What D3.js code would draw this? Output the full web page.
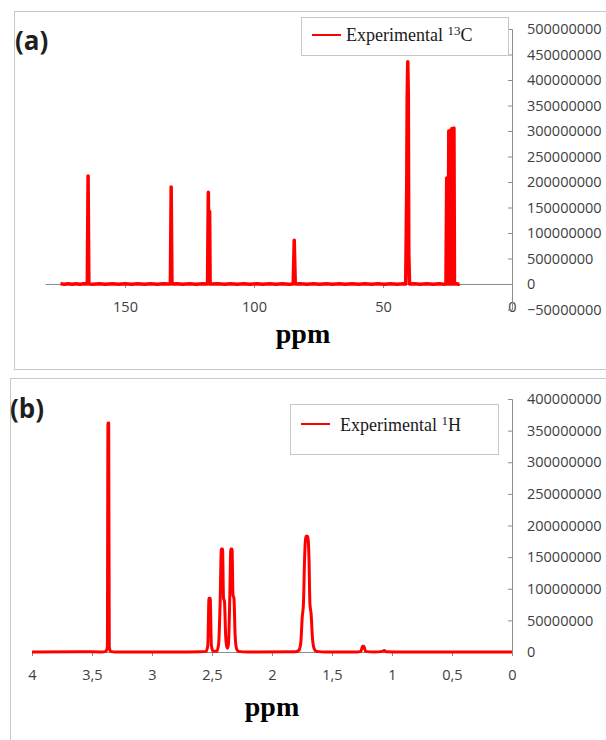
<!DOCTYPE html>
<html>
<head>
  <meta charset="utf-8">
  <style type="text/css">
    body { margin: 0; background: #fff; }
    .tick text { font-family: "Open Sans", sans-serif; font-size: 14.5px; fill: #404040; }
    .axis path, .axis line { stroke: #8c8c8c; }
  </style>
  <script src="https://d3js.org/d3.v7.min.js"></script>
  <script type="text/javascript">
    // 13C spectrum, ppm vs intensity
    var c13Ppm = [175.0, 173.5, 172.0, 170.5, 169.0, 167.5, 166.0, 164.6, 164.3, 164.0,
      162.5, 160.0, 157.5, 155.0, 152.5, 150.0, 147.5, 145.0, 142.5, 140.0, 137.5, 135.0, 133.0,
      132.4, 132.1, 131.8, 130.0, 127.5, 125.0, 122.5, 120.0, 118.3,
      118.0, 117.7, 117.4, 117.2, 117.0, 116.8,
      114.0, 111.5, 109.0, 106.5, 104.0, 101.5, 99.0, 96.5, 94.0, 91.5, 89.0, 86.5, 84.8,
      84.4, 84.0, 82.0, 79.5, 77.0, 74.5, 72.0, 69.5, 67.0, 64.5, 62.0, 59.5, 57.0, 54.5,
      52.0, 49.5, 47.0, 44.5, 42.0, 41.2,
      40.8, 40.6, 40.4, 40.2, 40.0, 39.7,
      38.0, 35.5, 33.0, 30.5, 28.0, 26.5, 25.6,
      25.3, 25.1, 24.9, 24.7, 24.5, 24.3, 24.1, 23.9, 23.7, 23.5, 23.3, 23.1, 22.9, 22.7, 22.5, 22.3,
      21.5, 20.8, 20.3];
    var c13Intensity = [0.3e6, -0.5e6, 0.6e6, -0.3e6, 0.5e6, -0.6e6, 0.3e6, 0, 212e6, 0,
      -0.5e6, 0.6e6, -0.4e6, 0.5e6, -0.6e6, 0.4e6, -0.5e6, 0.6e6, -0.3e6, 0.5e6, -0.6e6, 0.4e6, 0,
      0, 190e6, 0, 0.5e6, -0.5e6, 0.4e6, -0.6e6, 0.5e6, 0,
      0, 180e6, 0, 142e6, 0, 0,
      0.5e6, -0.5e6, 0.6e6, -0.4e6, 0.5e6, -0.6e6, 0.4e6, -0.5e6, 0.6e6, -0.3e6, 0.5e6, -0.6e6, 0,
      86e6, 0, 0.5e6, -0.5e6, 0.6e6, -0.4e6, 0.5e6, -0.5e6, 0.4e6, -0.5e6, 0.6e6, -0.4e6, 0.5e6, -0.6e6,
      0.4e6, -0.5e6, 0.5e6, -0.3e6, 0.5e6, 0,
      190e6, 375e6, 436e6, 375e6, 60e6, 0,
      0.5e6, -0.6e6, 0.4e6, -0.5e6, 0.5e6, -0.4e6, 0,
      208e6, 0, 208e6, 0, 300e6, 0, 300e6, 0, 302e6, 0, 305e6, 0, 305e6, 0, 306e6, 0,
      0.5e6, -0.5e6, 0.3e6];
    var c13XTicks = [150, 100, 50, 0];
    var c13YTicks = [-50e6, 0, 50e6, 100e6, 150e6, 200e6, 250e6, 300e6, 350e6, 400e6, 450e6, 500e6];

    // 1H spectrum
    var h1Ppm = [4.0, 3.6, 3.42, 3.385, 3.372, 3.367, 3.361, 3.356, 3.345, 3.30,
      2.8, 2.6, 2.55, 2.535, 2.525, 2.515, 2.505, 2.49,
      2.46, 2.445, 2.432, 2.422, 2.412, 2.404, 2.396, 2.386, 2.376, 2.37,
      2.362, 2.352, 2.343, 2.333, 2.325, 2.317, 2.307, 2.295, 2.28, 2.2,
      1.80, 1.775, 1.76, 1.748, 1.738, 1.728, 1.718, 1.702, 1.692, 1.684, 1.674, 1.662, 1.648, 1.63, 1.55,
      1.3, 1.26, 1.245, 1.235, 1.22, 1.15, 1.08, 1.065, 1.05, 0.9, 0.5, 0];
    var h1Intensity = [0, 0.5e6, 0, 1e6, 8e6, 362e6, 362e6, 8e6, 1e6, 0,
      0, 0.5e6, 1e6, 10e6, 85e6, 85e6, 10e6, 1e6,
      1e6, 12e6, 80e6, 163e6, 163e6, 85e6, 80e6, 25e6, 8e6, 6e6,
      15e6, 85e6, 163e6, 163e6, 90e6, 85e6, 25e6, 5e6, 1e6, 0,
      0.5e6, 3e6, 15e6, 55e6, 76e6, 150e6, 183e6, 183e6, 150e6, 76e6, 60e6, 20e6, 5e6, 1e6, 0,
      0, 1e6, 9e6, 9e6, 1e6, 0, 1e6, 2.5e6, 0.5e6, 0, 0, 0];
    var h1XTicks = [4, 3.5, 3, 2.5, 2, 1.5, 1, 0.5, 0];
    var h1YTicks = [0, 50e6, 100e6, 150e6, 200e6, 250e6, 300e6, 350e6, 400e6];

    function draw() {
      "use strict";
      var svg = d3.select("#chart")
        .append("svg")
          .attr("width", 606)
          .attr("height", 740);

      // panel frames
      svg.append("rect").attr("x", 14.5).attr("y", 11.5).attr("width", 620).attr("height", 358)
        .attr("fill", "none").attr("stroke", "#c8c8c8");
      svg.append("rect").attr("x", 10.5).attr("y", 378.5).attr("width", 620).attr("height", 400)
        .attr("fill", "none").attr("stroke", "#c8c8c8");

      function panel(opt) {
        var x = d3.scaleLinear().domain(opt.xDomain).range(opt.xRange);
        var y = d3.scaleLinear().domain(opt.yDomain).range(opt.yRange);
        var y0 = y(0);

        svg.append("g").attr("class", "axis")
          .attr("transform", "translate(0," + y0 + ")")
          .call(d3.axisBottom(x).tickValues(opt.xTicks).tickSize(4).tickSizeOuter(0)
            .tickFormat(opt.xFormat))
          .call(function(g) {
            g.selectAll(".tick text").attr("dy", null).attr("y", opt.xLabelY - y0);
          });

        svg.append("g").attr("class", "axis")
          .attr("transform", "translate(" + x(0) + ",0)")
          .call(d3.axisLeft(y).tickValues(opt.yTicks).tickSize(4).tickSizeOuter(4)
            .tickFormat(d3.format("d")))
          .call(function(g) {
            g.selectAll(".tick text").attr("text-anchor", "start").attr("x", 15);
          });

        var pts = d3.zip(opt.ppm, opt.intensity);
        svg.append("path")
          .datum(pts)
          .attr("fill", "none")
          .attr("stroke", "#ff0000")
          .attr("stroke-width", opt.lineWidth)
          .attr("stroke-linejoin", "round")
          .attr("d", d3.line().x(function(d) { return x(d[0]); })
            .y(function(d) { return y(d[1]); }).curve(opt.curve));

        svg.append("text")
          .attr("x", opt.ppmX).attr("y", opt.ppmY).attr("text-anchor", "middle")
          .style("font-family", "'Liberation Serif', serif").style("font-size", "28px")
          .style("font-weight", "bold").text("ppm");

        svg.append("text")
          .attr("x", opt.tagX).attr("y", opt.tagY)
          .style("font-family", "'Open Sans', sans-serif").style("font-size", "26px")
          .style("font-weight", "bold").style("fill", "#1f1f1f").text(opt.tag);

        // legend
        var lg = opt.legend;
        svg.append("rect").attr("x", lg.x + 0.5).attr("y", lg.y + 0.5)
          .attr("width", lg.w).attr("height", lg.h)
          .attr("fill", "#fff").attr("stroke", "#c8c8c8");
        svg.append("line").attr("x1", lg.x + 11).attr("x2", lg.x + 40)
          .attr("y1", lg.lineY).attr("y2", lg.lineY)
          .attr("stroke", "#ff0000").attr("stroke-width", 2);
        var t = svg.append("text").attr("x", lg.textX).attr("y", lg.textY)
          .style("font-family", "'Liberation Serif', serif").style("font-size", "18px")
          .style("fill", "#1a1a1a");
        t.append("tspan").text(lg.label);
        t.append("tspan").attr("dy", -6).style("font-size", "13px").text(lg.sup);
        t.append("tspan").attr("dy", 6).text(lg.atom);
      }

      panel({
        xDomain: [181, 0], xRange: [45, 512],
        yDomain: [-50e6, 500e6], yRange: [309.5, 29],
        xTicks: c13XTicks, yTicks: c13YTicks,
        xFormat: d3.format("d"), xLabelY: 312,
        ppm: c13Ppm, intensity: c13Intensity,
        lineWidth: 3.5, curve: d3.curveLinear,
        ppmX: 303, ppmY: 343, tag: "(a)", tagX: 15, tagY: 50,
        legend: { x: 301, y: 17, w: 207, h: 38, lineY: 35, textX: 346, textY: 41,
          label: "Experimental ", sup: "13", atom: "C" }
      });

      panel({
        xDomain: [4, 0], xRange: [32, 512],
        yDomain: [0, 400e6], yRange: [652, 399],
        xTicks: h1XTicks, yTicks: h1YTicks,
        xFormat: function(d) { return String(d).replace(".", ","); }, xLabelY: 680,
        ppm: h1Ppm, intensity: h1Intensity,
        lineWidth: 3, curve: d3.curveMonotoneX,
        ppmX: 272, ppmY: 716, tag: "(b)", tagX: 10, tagY: 418,
        legend: { x: 290, y: 404, w: 208, h: 50, lineY: 424, textX: 340, textY: 431,
          label: "Experimental  ", sup: "1", atom: "H" }
      });
    }
  </script>
</head>
<body>
  <div id="chart"></div>
  <script type="text/javascript">
    draw();
  </script>
</body>
</html>
